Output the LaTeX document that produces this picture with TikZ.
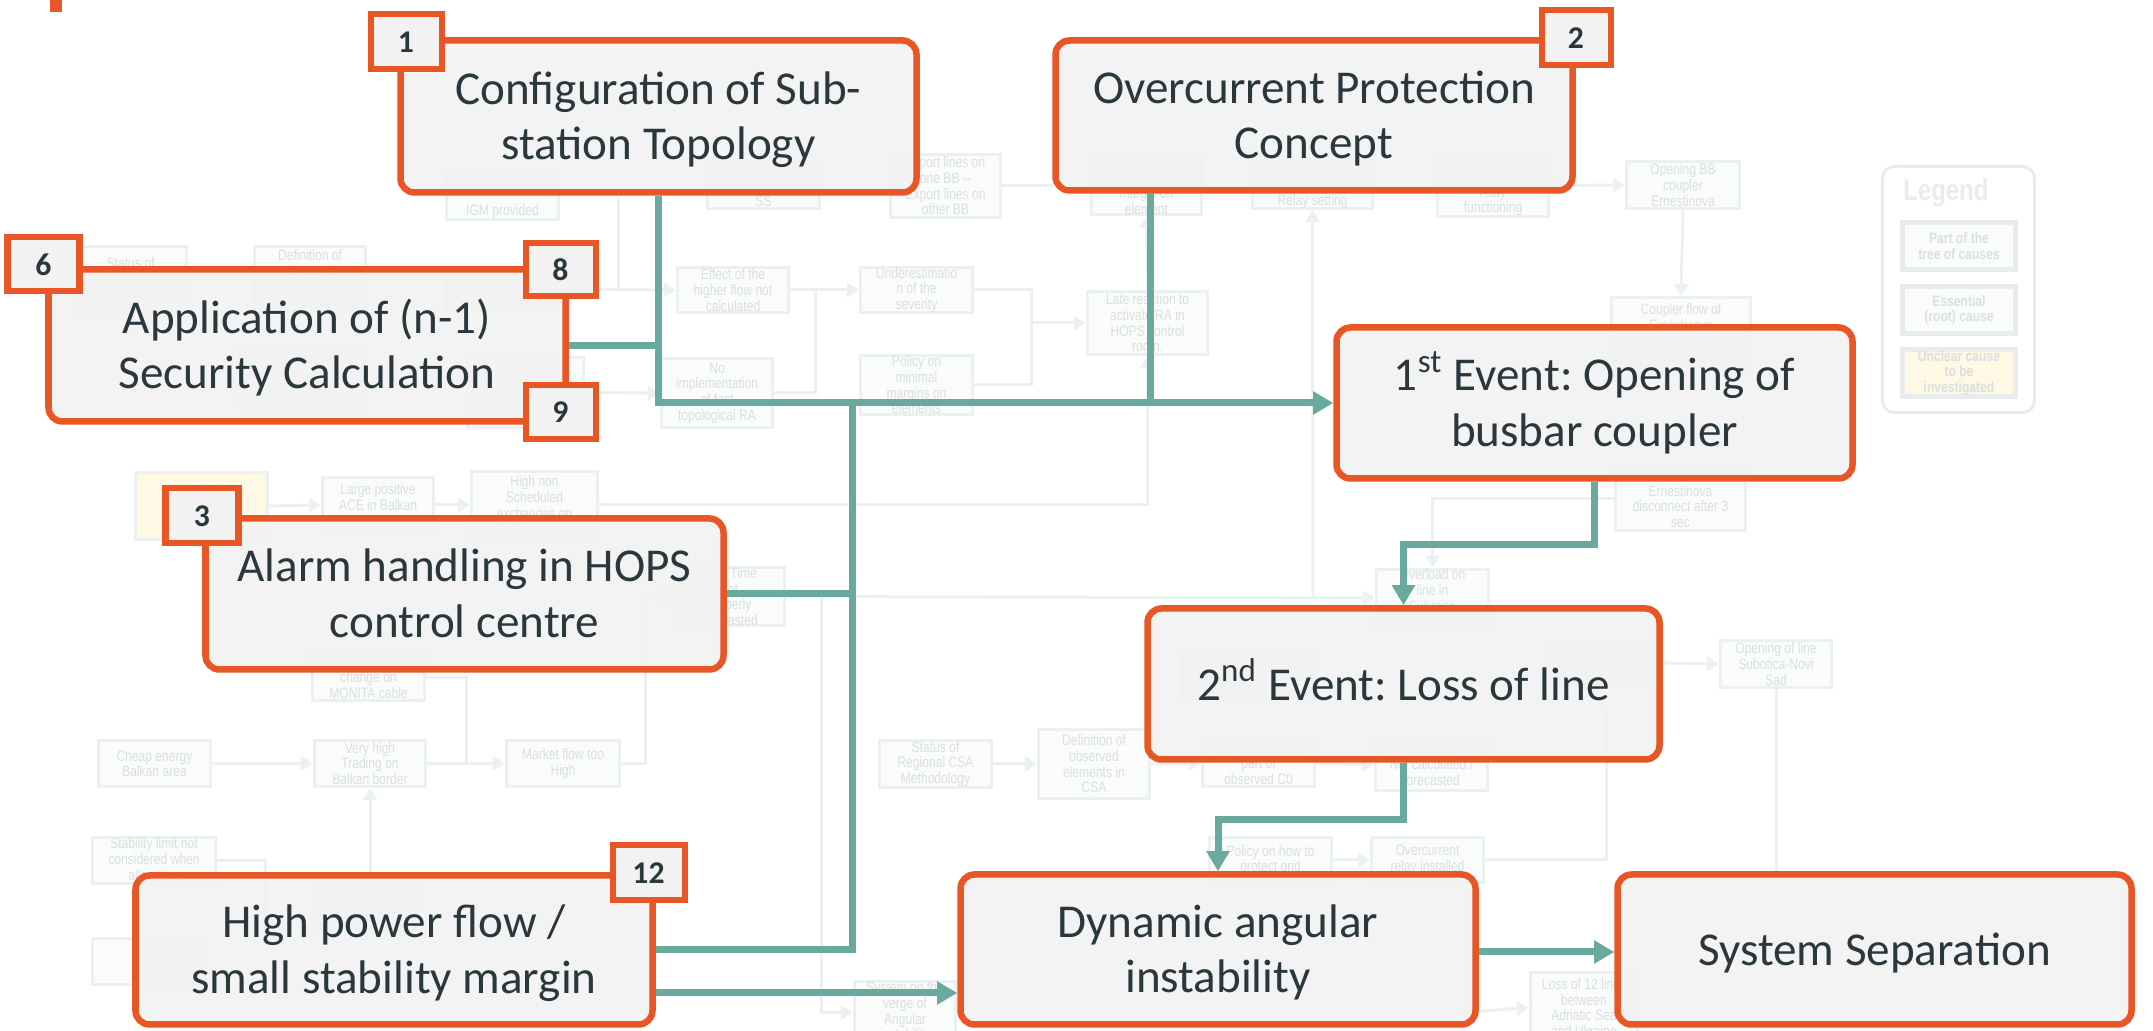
\documentclass[tikz,border=0pt]{standalone}
\usepackage{fontspec}
\setmainfont{Carlito}
\newfontfamily\fnt[FakeStretch=0.8]{Liberation Sans}
\usetikzlibrary{arrows.meta,calc}
\definecolor{orng}{RGB}{232,86,38}
\definecolor{tealc}{RGB}{106,170,158}
\definecolor{boxfill}{RGB}{242,242,242}
\definecolor{txtc}{RGB}{42,56,62}
\definecolor{fline}{RGB}{234,241,240}
\definecolor{ftext}{RGB}{217,224,223}
\definecolor{ffill}{RGB}{250,251,251}
\definecolor{fyel}{RGB}{255,248,228}
\definecolor{lgline}{RGB}{232,236,236}
\newcommand\BX[7]{\node[#1, minimum width={(#5-#3-5)*0.01cm}, minimum height={(#6-#4-5)*0.01cm}] (#2) at ({(#3+#5)/2},{(#4+#6)/2}) {#7};}
\newcommand\PH{\phantom{X}}
\frenchspacing
\begin{document}
\begin{tikzpicture}[x=0.01cm,y=-0.01cm,
 mainbox/.style={draw=orng, line width=0.065cm, fill=boxfill, fill opacity=0.92, text opacity=1, rounded corners=0.14cm, align=center, text=txtc, font=\fontsize{13.4}{15.9}\selectfont, inner sep=0pt},
 two/.style={text height=24.7pt, text depth=0pt},
 one/.style={text height=9.25pt, text depth=0pt},
 numbox/.style={draw=orng, line width=0.06cm, fill=boxfill, text=txtc, font=\bfseries\fontsize{9}{10}\selectfont, inner sep=0pt},
 conn/.style={draw=tealc, line width=0.07cm},
 arr/.style={-{Triangle[length=0.2cm,width=0.22cm]}},
 fbox/.style={draw=fline, line width=0.03cm, fill=ffill, text=ftext, align=center, font=\fnt\fontsize{4.3}{4.45}\selectfont, inner sep=0pt},
 fconn/.style={draw=fline, line width=0.03cm},
 farr/.style={-{Triangle[length=0.12cm,width=0.14cm]}},
 lgbox/.style={draw=lgline, line width=0.045cm, fill=ffill, text=ftext, align=center, font=\fnt\bfseries\fontsize{4.3}{4.45}\selectfont, inner sep=0pt},
]
\useasboundingbox (0,0) rectangle (2153,1031);
\fill[orng] (50,0) rectangle (62,12);

% ---------- faint background tree ----------
\BX{fbox}{f1}{444}{170}{561}{222}{\PH\\\PH\\IGM provided}
\BX{fbox}{f2}{705}{160}{822}{211}{\PH\\Ernestinova\\SS}
\BX{fbox}{f3}{888}{152}{1003}{220}{Import lines on\\one BB --\\Export lines on\\other BB}
\BX{fbox}{f4}{1089}{160}{1204}{211}{Insufficient\\real-time\\margin on\\element}
\BX{fbox}{f5}{1250}{160}{1375}{211}{BB coupler\\tripped by Max\\Relay setting}
\BX{fbox}{f6}{1435}{160}{1551}{211}{Unexpected\\overcurrent\\relay\\functioning}
\BX{fbox}{f7}{1624}{159}{1742}{211}{Opening BB\\coupler\\Ernestinova}
\BX{fbox}{f8}{1609}{295}{1753}{370}{Coupler flow of\\Ernestinova\\redirected through\\110 kV}
\BX{fbox}{f9}{1613}{465}{1748}{533}{\PH\\Ernestinova\\disconnect after 3\\sec}
\BX{fbox}{f10}{72}{244}{189}{314}{Status of\\\PH\\\PH}
\BX{fbox}{f11}{252}{244}{368}{314}{Definition of\\observed\\elements in\\CSA}
\BX{fbox}{f12}{238}{343}{367}{410}{Capability of\\\PH\\BB couplers}
\BX{fbox}{f13}{444}{265}{560}{313}{}
\BX{fbox}{f14}{465}{355}{586}{430}{}
\BX{fbox}{f15}{675}{265}{791}{315}{Effect of the\\higher flow not\\calculated}
\BX{fbox}{f16}{858}{265}{975}{315}{Underestimatio\\n of the\\severity}
\BX{fbox}{f17}{659}{356}{775}{430}{No\\implementation\\of fast\\topological RA}
\BX{fbox}{f18}{858}{359}{975}{411}{Policy on\\minimal\\margins on\\elements}
\BX{fbox}{f19}{1085}{289}{1210}{357}{Late reaction to\\activate RA in\\HOPS control\\room.}
\BX{fbox,fill=fyel}{f20}{133}{470}{270}{542}{LFC behaviour\\\PH\\\PH}
\BX{fbox}{f21}{320}{475}{436}{535}{Large positive\\ACE in Balkan\\\PH}
\BX{fbox}{f22}{469}{469}{600}{541}{High non\\Scheduled\\exchanges on\\Balkan border}
\BX{fbox}{f23}{672}{568}{787}{625}{Real Time\\not\\properly\\forecasted}
\BX{fbox}{f24}{310}{652}{427}{703}{Programm\\change on\\MONITA cable}
\BX{fbox}{f25}{96}{738}{213}{789}{Cheap energy\\Balkan area}
\BX{fbox}{f26}{312}{738}{428}{789}{Very high\\Trading on\\Balkan border}
\BX{fbox}{f27}{504}{738}{622}{789}{Market flow too\\High}
\BX{fbox}{f28}{90}{835}{218}{886}{Stability limit not\\considered when\\allocating}
\BX{fbox}{f29}{90}{936}{207}{987}{}
\BX{fbox}{f30}{312}{883}{418}{933}{}
\BX{fbox}{f31}{877}{738}{994}{790}{Status of\\Regional CSA\\Methodology}
\BX{fbox}{f32}{1036}{727}{1152}{801}{Definition of\\observed\\elements in\\CSA}
\BX{fbox}{f33}{1200}{738}{1317}{789}{BB Coupler not\\part of\\observed C0}
\BX{fbox}{f34}{1373}{736}{1490}{793}{High flow\\Not calculated /\\forecasted}
\BX{fbox}{f35}{1374}{573}{1491}{623}{Overload on\\line in\\Subotica\\\PH}
\BX{fbox}{f36}{1207}{835}{1334}{885}{Policy on how to\\protect grid}
\BX{fbox}{f37}{1369}{835}{1486}{885}{Overcurrent\\relay installed}
\BX{fbox}{f38}{1718}{638}{1834}{690}{Opening of line\\Subotica-Novi\\Sad}
\BX{fbox}{f39}{852}{980}{958}{1045}{System on the\\verge of\\Angular\\instability}
\BX{fbox}{f40}{1528}{970}{1640}{1045}{Loss of 12 lines\\between\\Adriatic Sea\\and Ukraine}
\BX{fbox}{f41}{1180}{652}{1314}{702}{}
\BX{fbox}{f42}{1547}{639}{1660}{687}{}

\coordinate (c1) at (466,763.5);
\coordinate (c2) at (370,873);
\coordinate (c3) at (265,930);
\coordinate (c4) at (1313,597);
\coordinate (c5) at (821,597);
\coordinate (c6) at (618,198);
\coordinate (c7) at (1031,323);
\coordinate (c8) at (1060,186);
\coordinate (c9) at (1776,880);
\coordinate (c10) at (1462,1012.5);
\coordinate (c11) at (1606,707);
\draw[fconn,farr] (f25.east) -- (f26.west);
\draw[fconn,farr] (f26.east) -- (f27.west);
\draw[fconn] (f24.east) -| (c1);
\draw[fconn,farr] (c2) -- (f26.south);
\draw[fconn] (f28.east) -| (c3);
\draw[fconn,farr] (f20.east) -- (f21.west);
\draw[fconn,farr] (f21.east) -- (f22.west);
\draw[fconn,farr] (f22.east) -| (f19.south);
\draw[fconn,farr] (f27.east) -- (645,763.5) -- (645,596.5) -- (f23.west);
\draw[fconn,farr] (f23.east) -- (f35.west);
\draw[fconn,farr] (c5) |- (f39.west);
\draw[fconn,farr] (c4) -- (f5.south);
\draw[fconn,farr] (f9.west) -| (f35.north);
\draw[fconn,farr] (f7.south) -- (f8.north);
\draw[fconn,farr] (f6.east) -- (f7.west);
\draw[fconn] (f3.east) -- (c8);
\draw[fconn,farr] (f13.east) -- (f15.west);
\draw[fconn] (c6) -- (618,290);
\draw[fconn,farr] (f15.east) -- (f16.west);
\draw[fconn] (815,290) |- (f17.east);
\draw[fconn] (f16.east) -- (1031,290) |- (f18.east);
\draw[fconn,farr] (c7) -- (f19.west);
\draw[fconn,farr] (f14.east) -- (f17.west);
\draw[fconn,farr] (f19.north) -- (f4.south);
\draw[fconn,farr] (f31.east) -- (f32.west);
\draw[fconn,farr] (f32.east) -- (f33.west);
\draw[fconn,farr] (f33.east) -- (f34.west);
\draw[fconn,farr] (f36.east) -- (f37.west);
\draw[fconn] (f37.east) -| (c11);
\draw[fconn,farr] (f42.east) -- (f38.west);
\draw[fconn] (f38.south) -- (c9);
\draw[fconn,farr] (c10) -- (f40.west);

% legend
\node[draw=lgline, line width=0.03cm, fill=white, rounded corners=0.12cm, minimum width=1.52cm, minimum height=2.46cm] (lg) at (1958.5,289.5) {};
\node[text=lgline, font=\fnt\bfseries\fontsize{8.5}{9}\selectfont, anchor=west] (lgt) at (1891,193) {Legend};
\BX{lgbox}{lg1}{1900}{220}{2018}{272}{Part of the\\tree of causes}
\BX{lgbox}{lg2}{1900}{284}{2018}{336}{Essential\\(root) cause}
\BX{lgbox,fill=fyel}{lg3}{1900}{347}{2018}{399}{Unclear cause\\to be\\investigated}

% ---------- main boxes ----------
\BX{mainbox,two}{conf}{398}{38}{919}{195}{Configuration of Sub-\\station Topology}
\BX{mainbox,two}{over}{1053}{38}{1575}{193}{Overcurrent Protection\\Concept}
\BX{mainbox,two}{app}{46}{267}{568}{424}{Application of (n-1)\\Security Calculation}
\BX{mainbox,two}{alarm}{203}{516}{726}{672}{Alarm handling in HOPS\\control centre}
\BX{mainbox,two}{high}{133}{873}{655}{1027}{High power flow /\\small stability margin}
\BX{mainbox,two}{ev1}{1334}{325}{1855}{481}{1\textsuperscript{st} Event: Opening of\\busbar coupler}
\BX{mainbox,one}{ev2}{1145}{606}{1662}{762}{2\textsuperscript{nd} Event: Loss of line}
\BX{mainbox,two}{dyn}{958}{872}{1478}{1027}{Dynamic angular\\instability}
\BX{mainbox,one}{sep}{1615}{872}{2134}{1027}{System Separation}

% ---------- connectors ----------
\coordinate (ovb) at (1150,193);
\coordinate (bus) at (852,403);
\draw[conn,arr] (conf.south) |- (ev1.west);
\draw[conn] (ovb) -- (ovb |- ev1.west);
\draw[conn] (app.east) -- (app.east -| conf.south);
\draw[conn] (high.east) -| (bus);
\draw[conn] (alarm.east) -- (alarm.east -| bus);
\draw[conn,arr] ($(high.east)+(0,43)$) -- ($(dyn.west)+(0,43.5)$);
\draw[conn,arr] (ev1.south) -- ++(0,63) -| (ev2.north);
\draw[conn,arr] (ev2.south) -- ++(0,57) -| (dyn.north);
\draw[conn,arr] ($(dyn.east)+(0,2.5)$) -- ($(sep.west)+(0,2.5)$);

% ---------- number tags ----------
\BX{numbox}{n1}{368}{12}{444}{72}{1}
\BX{numbox}{n2}{1539}{8}{1613}{68}{2}
\BX{numbox}{n6}{5}{235}{82}{294}{6}
\BX{numbox}{n8}{523}{241}{598}{299}{8}
\BX{numbox}{n9}{523}{383}{598}{442}{9}
\BX{numbox}{n3}{163}{486}{241}{546}{3}
\BX{numbox}{n12}{610}{843}{687}{903}{12}
\end{tikzpicture}
\end{document}
